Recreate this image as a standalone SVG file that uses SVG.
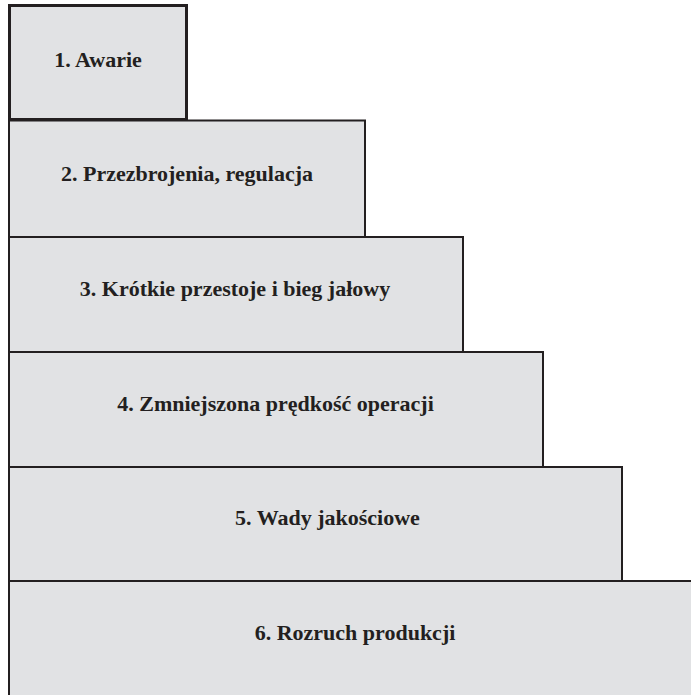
<svg xmlns="http://www.w3.org/2000/svg" width="691" height="695" viewBox="0 0 691 695">
  <style>
    .step { fill: #e1e2e4; stroke: #231f20; stroke-width: 2; }
    .top { stroke-width: 3; }
    .label { font-family: "Liberation Serif", "Times New Roman", serif; font-weight: bold; font-size: 22px; fill: #231f20; text-anchor: middle; }
  </style>
  <rect width="691" height="695" fill="#ffffff"/>
  <!-- staircase of loss categories, widest at the bottom -->
  <g id="step6">
    <rect class="step" x="9" y="581" width="700" height="130"/>
    <text class="label" x="355" y="640">6. Rozruch produkcji</text>
  </g>
  <g id="step5">
    <rect class="step" x="9" y="467" width="613" height="114"/>
    <text class="label" x="327.5" y="525">5. Wady jakościowe</text>
  </g>
  <g id="step4">
    <rect class="step" x="9" y="352" width="534" height="115"/>
    <text class="label" x="275.5" y="411">4. Zmniejszona prędkość operacji</text>
  </g>
  <g id="step3">
    <rect class="step" x="9" y="237" width="454" height="115"/>
    <text class="label" x="235" y="296">3. Krótkie przestoje i bieg jałowy</text>
  </g>
  <g id="step2">
    <rect class="step" x="9" y="120.5" width="356" height="116.5"/>
    <text class="label" x="187" y="181">2. Przezbrojenia, regulacja</text>
  </g>
  <g id="step1">
    <rect class="step top" x="9.5" y="5.5" width="177" height="114"/>
    <text class="label" x="98" y="67">1. Awarie</text>
  </g>
  <g id="connectors"/>
</svg>
